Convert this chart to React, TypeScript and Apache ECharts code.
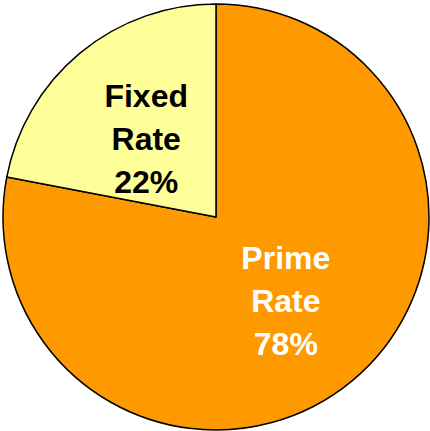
import React, { useEffect, useRef } from "react";
import * as echarts from "echarts";

const names = ["Prime Rate", "Fixed Rate"];
const values = [78, 22];
const colors = ["#FF9900", "#FFFF99"];
const labelColors = ["#FFFFFF", "#000000"];
const labelShiftY = [0, 6];

export default function App() {
  const ref = useRef<HTMLDivElement>(null);
  useEffect(() => {
    document.body.style.margin = "0";
    const chart = echarts.init(ref.current!, null, { renderer: "svg" });
    chart.setOption({
      animation: false,
      backgroundColor: "#FFFFFF",
      series: [
        {
          type: "pie",
          center: [216, 217],
          radius: [0, 213],
          startAngle: 90,
          clockwise: true,
          avoidLabelOverlap: false,
          labelLine: { show: false },
          labelLayout: (p: any) => ({ dy: labelShiftY[p.dataIndex] }),
          itemStyle: { borderColor: "#000000", borderWidth: 1.5 },
          data: names.map((n, i) => ({
            name: n,
            value: values[i],
            itemStyle: { color: colors[i] },
            label: {
              show: true,
              position: "inner",
              color: labelColors[i],
              fontFamily: "Liberation Sans, Arial, sans-serif",
              fontWeight: "bold",
              fontSize: 32,
              lineHeight: 43,
              align: "center",
              formatter: (p: any) => p.name.replace(" ", "\n") + "\n" + p.value + "%",
            },
          })),
        },
      ],
    });
    return () => chart.dispose();
  }, []);
  return (
    <div
      ref={ref}
      style={{ position: "absolute", left: 0, top: 0, width: 430, height: 431 }}
    />
  );
}
